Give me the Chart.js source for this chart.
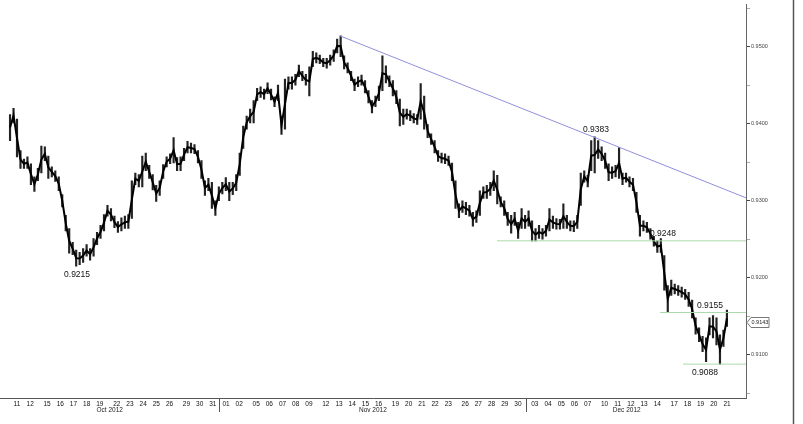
<!DOCTYPE html>
<html><head><meta charset="utf-8">
<script src="https://cdn.jsdelivr.net/npm/chart.js@4/dist/chart.umd.min.js"></script>
<style>html,body{margin:0;padding:0;background:#fff;overflow:hidden}#wrap{width:803px;height:424px;position:relative}</style>
</head><body><div id="wrap"><canvas id="c" width="803" height="424"></canvas></div>
<script>
// ---- categories: trading days on the x axis ----
const tradingDays = [
 '2012-10-11','2012-10-12','2012-10-15','2012-10-16','2012-10-17','2012-10-18','2012-10-19','2012-10-22','2012-10-23','2012-10-24','2012-10-25','2012-10-26','2012-10-29','2012-10-30','2012-10-31',
 '2012-11-01','2012-11-02','2012-11-05','2012-11-06','2012-11-07','2012-11-08','2012-11-09','2012-11-12','2012-11-13','2012-11-14','2012-11-15','2012-11-16','2012-11-19','2012-11-20','2012-11-21','2012-11-22','2012-11-23','2012-11-26','2012-11-27','2012-11-28','2012-11-29','2012-11-30',
 '2012-12-03','2012-12-04','2012-12-05','2012-12-06','2012-12-07','2012-12-10','2012-12-11','2012-12-12','2012-12-13','2012-12-14','2012-12-17','2012-12-18','2012-12-19','2012-12-20','2012-12-21'
];
const monthLabels = ['Oct 2012','Nov 2012','Dec 2012'];

// ---- price bars (USD/CHF), high and low of each sampled period ----
const barHigh = [
 0.9412,0.9420,0.9406,0.9365,0.9354,0.9357,0.9348,0.9331,0.9342,0.9371,
 0.9370,0.9358,0.9344,0.9339,0.9331,0.9308,0.9281,0.9264,0.9246,0.9236,
 0.9233,0.9238,0.9243,0.9238,0.9251,0.9259,0.9268,0.9282,0.9294,0.9290,
 0.9280,0.9273,0.9278,0.9280,0.9282,0.9326,0.9336,0.9334,0.9358,0.9362,
 0.9346,0.9334,0.9320,0.9326,0.9347,0.9357,0.9361,0.9382,0.9356,0.9357,
 0.9368,0.9377,0.9375,0.9373,0.9365,0.9352,0.9326,0.9329,0.9324,0.9300,
 0.9318,0.9324,0.9330,0.9324,0.9324,0.9334,0.9362,0.9397,0.9410,0.9419,
 0.9430,0.9446,0.9448,0.9445,0.9453,0.9445,0.9435,0.9450,0.9410,0.9458,
 0.9461,0.9461,0.9464,0.9476,0.9468,0.9464,0.9474,0.9494,0.9492,0.9489,
 0.9485,0.9485,0.9489,0.9496,0.9510,0.9514,0.9488,0.9479,0.9468,0.9458,
 0.9461,0.9463,0.9456,0.9443,0.9430,0.9436,0.9449,0.9488,0.9475,0.9462,
 0.9456,0.9443,0.9432,0.9419,0.9419,0.9417,0.9413,0.9412,0.9452,0.9436,
 0.9399,0.9387,0.9378,0.9365,0.9362,0.9361,0.9358,0.9349,0.9326,0.9296,
 0.9300,0.9298,0.9294,0.9285,0.9287,0.9313,0.9318,0.9320,0.9324,0.9339,
 0.9333,0.9305,0.9300,0.9285,0.9281,0.9285,0.9272,0.9290,0.9281,0.9287,
 0.9274,0.9264,0.9268,0.9264,0.9268,0.9290,0.9280,0.9277,0.9276,0.9296,
 0.9281,0.9274,0.9274,0.9281,0.9336,0.9339,0.9333,0.9378,0.9383,0.9378,
 0.9370,0.9362,0.9348,0.9344,0.9346,0.9369,0.9336,0.9336,0.9331,0.9329,
 0.9311,0.9281,0.9274,0.9272,0.9264,0.9254,0.9248,0.9251,0.9229,0.9190,
 0.9197,0.9192,0.9190,0.9188,0.9185,0.9181,0.9171,0.9148,0.9135,0.9124,
 0.9122,0.9148,0.9151,0.9148,0.9126,0.9132,0.9158
];
const barLow = [
 0.9378,0.9401,0.9357,0.9342,0.9342,0.9342,0.9321,0.9312,0.9326,0.9336,
 0.9352,0.9329,0.9331,0.9325,0.9313,0.9292,0.9261,0.9232,0.9230,0.9215,
 0.9217,0.9220,0.9228,0.9223,0.9228,0.9243,0.9251,0.9261,0.9280,0.9274,
 0.9265,0.9259,0.9261,0.9264,0.9264,0.9277,0.9321,0.9318,0.9318,0.9339,
 0.9329,0.9314,0.9299,0.9307,0.9329,0.9344,0.9348,0.9349,0.9339,0.9339,
 0.9352,0.9362,0.9362,0.9361,0.9349,0.9329,0.9307,0.9313,0.9290,0.9281,
 0.9300,0.9309,0.9313,0.9300,0.9308,0.9313,0.9333,0.9368,0.9393,0.9401,
 0.9401,0.9430,0.9434,0.9432,0.9439,0.9431,0.9422,0.9430,0.9386,0.9393,
 0.9445,0.9445,0.9450,0.9461,0.9456,0.9450,0.9436,0.9474,0.9479,0.9478,
 0.9474,0.9472,0.9476,0.9481,0.9492,0.9487,0.9471,0.9466,0.9456,0.9443,
 0.9448,0.9450,0.9440,0.9427,0.9414,0.9422,0.9430,0.9443,0.9453,0.9448,
 0.9436,0.9426,0.9397,0.9399,0.9406,0.9404,0.9401,0.9399,0.9406,0.9393,
 0.9382,0.9373,0.9362,0.9351,0.9349,0.9348,0.9346,0.9326,0.9290,0.9278,
 0.9285,0.9282,0.9280,0.9267,0.9272,0.9281,0.9303,0.9303,0.9307,0.9313,
 0.9296,0.9292,0.9281,0.9268,0.9258,0.9268,0.9251,0.9264,0.9264,0.9267,
 0.9248,0.9248,0.9251,0.9250,0.9254,0.9261,0.9264,0.9263,0.9263,0.9264,
 0.9264,0.9261,0.9260,0.9264,0.9294,0.9324,0.9318,0.9339,0.9336,0.9355,
 0.9352,0.9342,0.9326,0.9329,0.9331,0.9329,0.9321,0.9324,0.9318,0.9313,
 0.9285,0.9254,0.9261,0.9259,0.9250,0.9241,0.9233,0.9233,0.9184,0.9155,
 0.9177,0.9179,0.9177,0.9175,0.9172,0.9163,0.9148,0.9127,0.9117,0.9104,
 0.9091,0.9126,0.9122,0.9113,0.9088,0.9111,0.9137
];
// time of first sample and spacing, in trading-day units (day 0 = Oct 11)
const sampleStart = -0.527;
const sampleStep = 0.2637;
const lastPrice = 0.9143;

// ---- annotations ----
const trendFrom = [24.48, 0.9514];   // [trading time, price] Nov 13 high
const trendThrough = [43.65, 0.9383]; // Dec 7 high
const levelPrices = [0.9248, 0.9155, 0.9088];
const levelStarts = [36.37, 48.72, 50.47];
const calloutPrices = [0.9215, 0.9383, 0.9248, 0.9155, 0.9088];
const calloutTimes = [4.55, 43.87, 48.95, 52.51, 52.13];
const calloutSide = ['below','above','above','above','below'];

// ---- axis ticks ----
const priceTicks = [0.9050,0.9100,0.9150,0.9200,0.9250,0.9300,0.9350,0.9400,0.9450,0.9500,0.9550];

// ---- layout constants ----
const WEEKEND_GAP = 0.28;
const X_MIN = -1.288, X_MAX = 55.24;
const Y_MIN = 0.9044, Y_MAX = 0.9555;
const FONT = 'Liberation Sans, Arial, sans-serif';

const dayPos = [];
tradingDays.forEach((d, i) => {
  if (i === 0) { dayPos.push(0); return; }
  const monday = new Date(d + 'T00:00:00Z').getUTCDay() === 1;
  dayPos.push(dayPos[i - 1] + 1 + (monday ? WEEKEND_GAP : 0));
});

const sampleTime = barHigh.map((h, k) => sampleStart + k * sampleStep);
const bars = barHigh.map((h, k) => ({ x: sampleTime[k], y: [barLow[k], h] }));
const mids = barHigh.map((h, k) => ({ x: sampleTime[k], y: (h + barLow[k]) / 2 }));
const slope = (trendThrough[1] - trendFrom[1]) / (trendThrough[0] - trendFrom[0]);
const trendData = [{ x: trendFrom[0], y: trendFrom[1] }, { x: X_MAX, y: trendFrom[1] + slope * (X_MAX - trendFrom[0]) }];

const datasets = [
  { type: 'bar', data: bars, backgroundColor: '#222', borderWidth: 0, barThickness: 1.5, order: 3 },
  { type: 'line', data: mids, borderColor: '#000', borderWidth: 2, pointRadius: 0, tension: 0, order: 2 },
  { type: 'line', data: trendData, borderColor: '#9090dd', borderWidth: 1, pointRadius: 0, order: 1 }
];
levelPrices.forEach((p, i) => datasets.push({
  type: 'line', data: [{ x: levelStarts[i], y: p }, { x: X_MAX, y: p }],
  borderColor: '#a9d9a9', borderWidth: 1, pointRadius: 0, order: 1
}));

const decor = {
  id: 'decor',
  afterDraw(chart) {
    const ctx = chart.ctx, xs = chart.scales.x, ys = chart.scales.y;
    ctx.save();
    // callouts
    ctx.font = '8.5px ' + FONT;
    ctx.fillStyle = '#111';
    ctx.textAlign = 'center';
    calloutPrices.forEach((p, i) => {
      const x = xs.getPixelForValue(calloutTimes[i]);
      const y = ys.getPixelForValue(p);
      if (calloutSide[i] === 'above') { ctx.textBaseline = 'bottom'; ctx.fillText(p.toFixed(4), x, y - 3); }
      else { ctx.textBaseline = 'top'; ctx.fillText(p.toFixed(4), x, y + 4); }
    });
    // month separators and labels
    const bounds = [];
    for (let i = 1; i < tradingDays.length; i++) {
      if (tradingDays[i].slice(5, 7) !== tradingDays[i - 1].slice(5, 7)) bounds.push((dayPos[i] + dayPos[i - 1]) / 2);
    }
    ctx.strokeStyle = '#555'; ctx.lineWidth = 1;
    bounds.forEach(b => {
      const x = Math.round(xs.getPixelForValue(b)) + 0.5;
      ctx.beginPath(); ctx.moveTo(x, xs.top); ctx.lineTo(x, xs.top + 14); ctx.stroke();
    });
    const edges = [X_MIN, ...bounds, dayPos[dayPos.length - 1]];
    ctx.font = '6.5px ' + FONT; ctx.fillStyle = '#222'; ctx.textBaseline = 'middle';
    monthLabels.forEach((m, i) => {
      ctx.fillText(m, xs.getPixelForValue((edges[i] + edges[i + 1]) / 2), xs.top + 12);
    });
    // last price box
    const py = Math.round(ys.getPixelForValue(lastPrice)) + 0.5;
    const ax = xs.right + 1;
    ctx.beginPath();
    ctx.moveTo(ax, py); ctx.lineTo(ax + 4, py - 5); ctx.lineTo(ax + 22, py - 5);
    ctx.lineTo(ax + 22, py + 5); ctx.lineTo(ax + 4, py + 5); ctx.closePath();
    ctx.fillStyle = '#fff'; ctx.fill(); ctx.strokeStyle = '#777'; ctx.stroke();
    ctx.fillStyle = '#222'; ctx.textAlign = 'left'; ctx.font = '5.5px ' + FONT;
    ctx.fillText(lastPrice.toFixed(4), ax + 4.5, py);
    // right frame line
    ctx.strokeStyle = '#555'; ctx.lineWidth = 1.5;
    ctx.beginPath(); ctx.moveTo(793.5, 0); ctx.lineTo(793.5, chart.height); ctx.stroke();
    ctx.restore();
  }
};

new Chart(document.getElementById('c'), {
  type: 'bar',
  data: { datasets },
  plugins: [decor],
  options: {
    responsive: false, animation: false, devicePixelRatio: 1,
    layout: { padding: { top: 3, left: 0, right: 0, bottom: 0 } },
    plugins: { legend: { display: false }, tooltip: { enabled: false } },
    scales: {
      x: {
        type: 'linear', min: X_MIN, max: X_MAX, offset: false,
        afterBuildTicks: s => { s.ticks = dayPos.map(v => ({ value: v })); },
        afterFit: s => { s.height = 26; },
        grid: { drawOnChartArea: false, drawTicks: false },
        border: { display: true, color: '#555', width: 1 },
        ticks: { autoSkip: false, maxRotation: 0, padding: 2, color: '#111',
          font: { family: FONT, size: 6.5 },
          callback: (v, i) => tradingDays[i] ? tradingDays[i].slice(8) : '' }
      },
      y: {
        type: 'linear', position: 'right', min: Y_MIN, max: Y_MAX,
        afterBuildTicks: s => { s.ticks = priceTicks.map(v => ({ value: v })); },
        afterFit: s => { s.width = 57; },
        grid: { drawOnChartArea: false, drawTicks: true, tickLength: 4,
          tickColor: c => (Math.round(c.tick.value * 10000) % 100 === 0 ? '#444' : '#aaa') },
        border: { display: true, color: '#666', width: 1 },
        ticks: { padding: 1, color: '#444', font: { family: FONT, size: 5.5 },
          callback: v => (Math.round(v * 10000) % 100 === 0 ? v.toFixed(4) : '') }
      }
    }
  }
});
</script></body></html>
